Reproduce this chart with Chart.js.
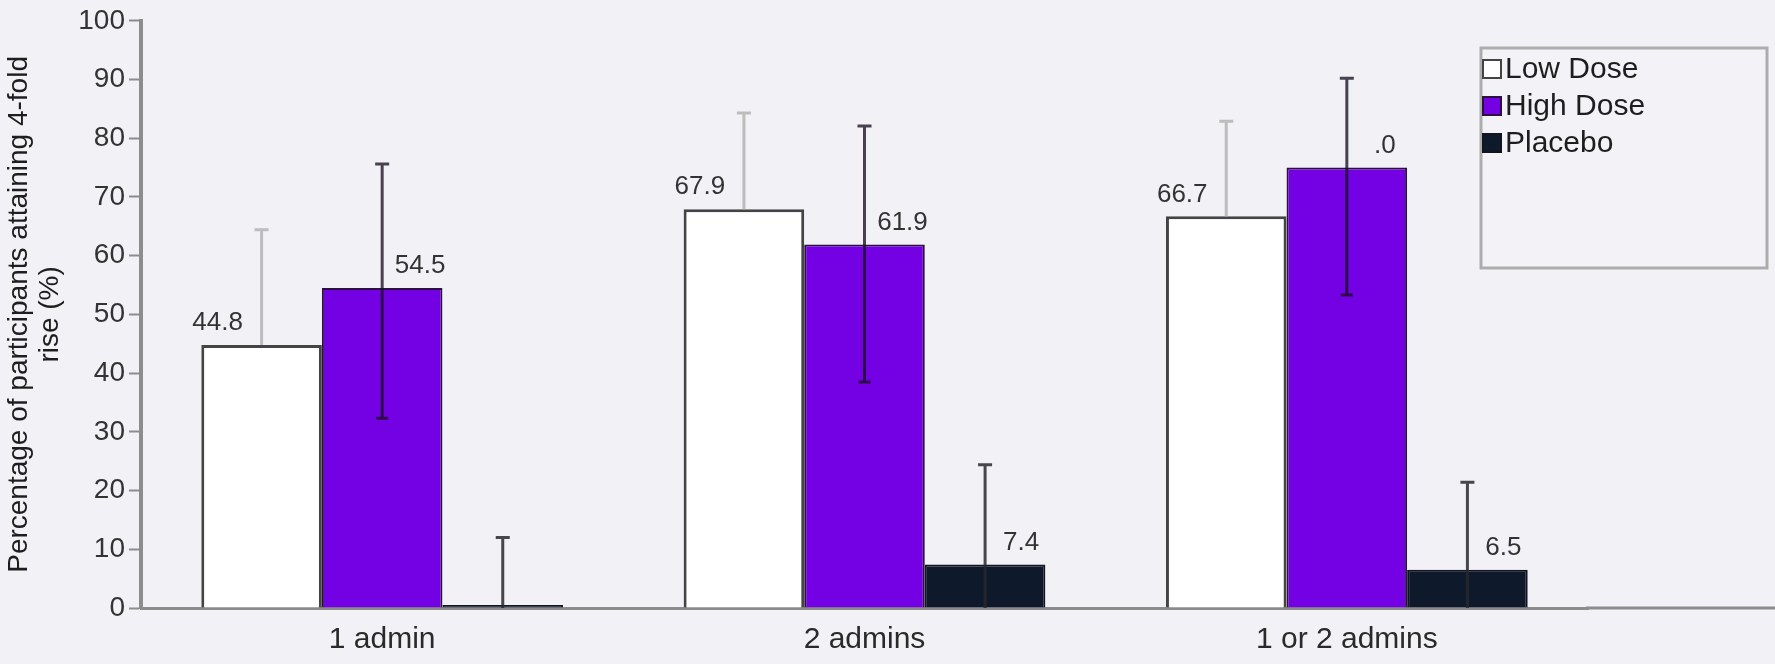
<!DOCTYPE html>
<html>
<head>
<meta charset="utf-8">
<script src="https://cdn.jsdelivr.net/npm/chart.js@4.4.1/dist/chart.umd.min.js"></script>
<style>
  html, body { margin: 0; padding: 0; background: #f2f1f6; }
  #wrap { width: 1775px; height: 664px; }
</style>
</head>
<body>
<div id="wrap"><canvas id="myChart"></canvas></div>
<script>
// nhóm trên trục x
var categories = ['1 admin', '2 admins', '1 or 2 admins'];

// tỷ lệ (%) theo từng nhóm
var lowDose = [44.8, 67.9, 66.7];
var highDose = [54.5, 61.9, 75.0];
var placebo = [0, 7.4, 6.5];

// chữ ghi trên cột
var lowDoseText = ['44.8', '67.9', '66.7'];
var highDoseText = ['54.5', '61.9', '.0'];
var placeboText = ['', '7.4', '6.5'];

// thanh sai số (null = không vẽ phần dưới)
var lowDoseLower = [null, null, null];
var lowDoseUpper = [64.4, 84.3, 82.9];
var highDoseLower = [32.3, 38.5, 53.3];
var highDoseUpper = [75.6, 82.1, 90.2];
var placeboLower = [0, 0, 0];
var placeboUpper = [12.0, 24.4, 21.4];

var yTicks = [0, 10, 20, 30, 40, 50, 60, 70, 80, 90, 100];

var FONT = "'Liberation Sans', Arial, sans-serif";

// kiểu vẽ cho thanh sai số và nhãn của từng series
var extras = [
    { lower: lowDoseLower, upper: lowDoseUpper, text: lowDoseText, color: '#bdbdbd', dx: -44, dy: -22 },
    { lower: highDoseLower, upper: highDoseUpper, text: highDoseText, color: 'rgba(25,15,35,0.78)', dx: 38, dy: -22 },
    { lower: placeboLower, upper: placeboUpper, text: placeboText, color: 'rgba(40,40,45,0.85)', dx: 36, dy: -22 }
];

var background = {
    id: 'background',
    beforeDraw: function(chart) {
        var c = chart.ctx;
        c.save();
        c.fillStyle = '#f2f1f6';
        c.fillRect(0, 0, chart.width, chart.height);
        c.restore();
    }
};

// thanh sai số + số liệu trên cột
var errorBars = {
    id: 'errorBars',
    afterDatasetsDraw: function(chart) {
        var c = chart.ctx;
        var y = chart.scales.y;
        c.save();
        extras.forEach(function(ex, i) {
            var meta = chart.getDatasetMeta(i);
            var values = chart.data.datasets[i].data;
            meta.data.forEach(function(bar, j) {
                var x = bar.x;
                var top = y.getPixelForValue(ex.upper[j]);
                var bottom = ex.lower[j] === null ? y.getPixelForValue(values[j]) : y.getPixelForValue(ex.lower[j]);
                c.strokeStyle = ex.color;
                c.lineWidth = 3;
                c.beginPath();
                c.moveTo(x, bottom);
                c.lineTo(x, top);
                c.moveTo(x - 7, top);
                c.lineTo(x + 7, top);
                if (ex.lower[j] !== null && ex.lower[j] > 0) {
                    c.moveTo(x - 6, bottom);
                    c.lineTo(x + 6, bottom);
                }
                c.stroke();
            });
        });
        // số liệu
        c.font = '26px ' + FONT;
        c.fillStyle = '#333';
        c.textAlign = 'center';
        c.textBaseline = 'middle';
        extras.forEach(function(ex, i) {
            var meta = chart.getDatasetMeta(i);
            meta.data.forEach(function(bar, j) {
                if (!ex.text[j]) return;
                c.fillText(ex.text[j], bar.x + ex.dx, bar.y + ex.dy);
            });
        });
        c.restore();
    }
};

// trục x kéo dài tới mép phải + chú thích có khung
var extrasDraw = {
    id: 'extrasDraw',
    afterDraw: function(chart) {
        var c = chart.ctx;
        var area = chart.chartArea;
        c.save();
        c.strokeStyle = '#8c8c8c';
        c.lineWidth = 3;
        c.beginPath();
        c.moveTo(area.right - 2, area.bottom);
        c.lineTo(chart.width, area.bottom);
        c.stroke();

        // khung chú thích
        var bx = 1481, by = 48, bw = 286, bh = 220;
        c.fillStyle = '#f3f2f7';
        c.fillRect(bx, by, bw, bh);
        c.strokeStyle = '#adadad';
        c.lineWidth = 3;
        c.strokeRect(bx, by, bw, bh);

        c.font = '30px ' + FONT;
        c.textAlign = 'left';
        c.textBaseline = 'middle';
        chart.data.datasets.forEach(function(ds, i) {
            var cy = 69 + i * 37;
            c.fillStyle = ds.backgroundColor;
            c.fillRect(bx + 2, cy - 9, 18, 18);
            c.strokeStyle = ds.borderColor;
            c.lineWidth = 2;
            c.strokeRect(bx + 2, cy - 9, 18, 18);
            c.fillStyle = '#1e1e1e';
            c.fillText(ds.label, bx + 24, cy + 1);
        });
        c.restore();
    }
};

const config = {
    type: 'bar',
    data: {
        labels: categories,
        datasets: [{
            label: 'Low Dose',
            data: lowDose,
            backgroundColor: '#ffffff',
            borderColor: '#444444',
            borderWidth: 3
        }, {
            label: 'High Dose',
            data: highDose,
            backgroundColor: '#7400e4',
            borderColor: '#2b1040',
            borderWidth: 2
        }, {
            label: 'Placebo',
            data: placebo,
            backgroundColor: '#0e1a2c',
            borderColor: '#101520',
            borderWidth: 2,
            minBarLength: 3
        }]
    },
    options: {
        responsive: true,
        maintainAspectRatio: false,
        animation: false,
        layout: { padding: { left: 0, right: 187, top: 17, bottom: 0 } },
        datasets: { bar: { categoryPercentage: 0.75, barPercentage: 1.0 } },
        plugins: {
            legend: { display: false },
            tooltip: { enabled: false }
        },
        scales: {
            x: {
                grid: { display: false, drawTicks: false },
                border: { color: '#8c8c8c', width: 3 },
                ticks: { color: '#2a2a2a', font: { family: FONT, size: 30 }, padding: 14 },
                afterFit: function(s) { s.height = 56; }
            },
            y: {
                min: 0,
                max: 100,
                afterBuildTicks: function(s) { s.ticks = yTicks.map(function(v) { return { value: v }; }); },
                grid: { drawOnChartArea: false, tickLength: 12, tickWidth: 2, tickColor: '#8c8c8c' },
                border: { color: '#8c8c8c', width: 4 },
                ticks: { color: '#333', font: { family: FONT, size: 28 }, padding: 4 },
                title: {
                    display: true,
                    text: ['Percentage of participants attaining 4-fold', 'rise (%)'],
                    color: '#1e1e1e',
                    font: { family: FONT, size: 28, lineHeight: 1.1 },
                    padding: { top: 4, bottom: 4 }
                },
                afterFit: function(s) { s.width = 141; }
            }
        }
    },
    plugins: [background, errorBars, extrasDraw]
};

var ctx = document.getElementById('myChart').getContext('2d');
var myChart = new Chart(ctx, config);
</script>
</body>
</html>
